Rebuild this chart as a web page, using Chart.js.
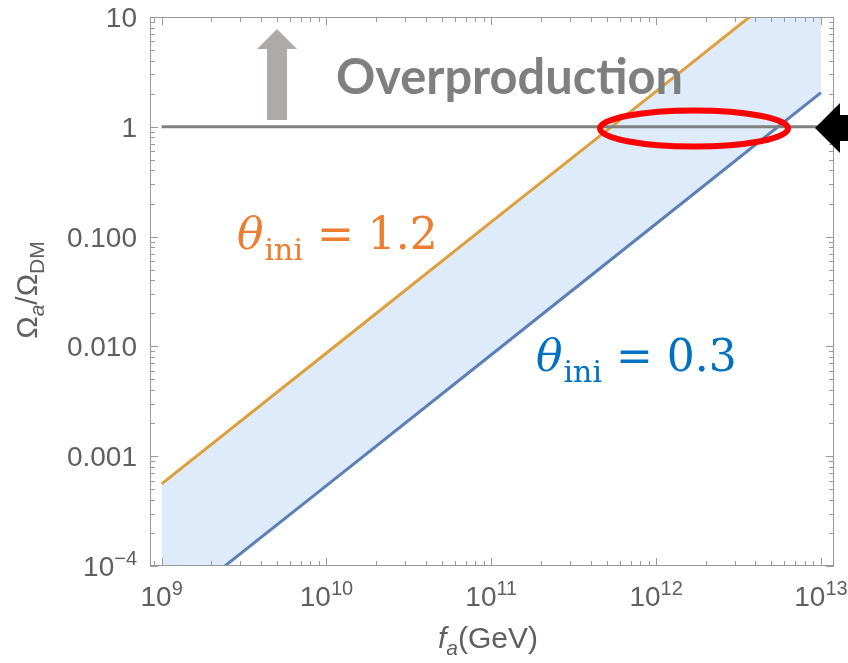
<!DOCTYPE html>
<html>
<head>
<meta charset="utf-8">
<script src="https://cdn.jsdelivr.net/npm/chart.js@4.4.1/dist/chart.umd.min.js"></script>
<style>
  html, body { margin: 0; padding: 0; background: #fff; }
  #wrap { width: 848px; height: 663px; }
</style>
</head>
<body>
<div id="wrap"><canvas id="relic-chart" width="848" height="663"></canvas></div>
<script>
// axion decay constant f_a (GeV) and relic abundance Omega_a / Omega_DM
var faValues = [1e9, 1e10, 1e11, 1e12, 1e13];
var omegaTheta12 = [5.6e-4, 8.7e-3, 0.136, 2.1, 33];
var omegaTheta03 = [3.5e-5, 5.4e-4, 8.4e-3, 0.131, 2.05];
var dmLineX = [1e9, 1.2e13];
var dmLineY = [1, 1];

var xTickValues = [1e9, 1e10, 1e11, 1e12, 1e13];
var xTickLabels = ['10^9', '10^10', '10^11', '10^12', '10^13'];
var yTickValues = [1e-4, 1e-3, 1e-2, 1e-1, 1, 10];
var yTickLabels = ['10^−4', '0.001', '0.010', '0.100', '1', '10'];

var LABEL_FONT = '28px "Liberation Sans"';
var SUP_FONT = '20px "Liberation Sans"';

function toPoints(xs, ys) {
    return xs.map(function (x, i) { return { x: x, y: ys[i] }; });
}

// draws a row of text pieces with different fonts / baseline shifts
function drawRuns(ctx, runs, x, y, align) {
    var total = 0;
    runs.forEach(function (r) {
        ctx.font = r.font;
        total += ctx.measureText(r.text).width + (r.gap || 0);
    });
    var cx = x;
    if (align === 'center') cx = x - total / 2;
    if (align === 'right') cx = x - total;
    runs.forEach(function (r) {
        ctx.font = r.font;
        ctx.fillText(r.text, cx, y + (r.dy || 0));
        cx += ctx.measureText(r.text).width + (r.gap || 0);
    });
}

function labelRuns(label) {
    var parts = label.split('^');
    var runs = [{ text: parts[0], font: LABEL_FONT }];
    if (parts[1]) runs.push({ text: parts[1], font: SUP_FONT, dy: -11 });
    return runs;
}

var frameTicks = {
    id: 'frameTicks',
    afterDatasetsDraw: function (chart) {
        var ctx = chart.ctx, a = chart.chartArea;
        var xs = chart.scales.x, ys = chart.scales.y;
        ctx.save();
        ctx.strokeStyle = '#9a9a9a';
        ctx.lineWidth = 1;
        ctx.strokeRect(a.left + 0.5, a.top + 0.5, a.right - a.left - 1, a.bottom - a.top - 1);
        ctx.beginPath();
        for (var d = -5; d <= 13; d++) {
            for (var k = 1; k <= 9; k++) {
                var v = k * Math.pow(10, d);
                var len = k === 1 ? 8 : 5;
                if (v >= xs.min && v <= xs.max) {
                    var px = Math.round(xs.getPixelForValue(v)) + 0.5;
                    ctx.moveTo(px, a.bottom); ctx.lineTo(px, a.bottom - len);
                    ctx.moveTo(px, a.top); ctx.lineTo(px, a.top + len);
                }
                if (v >= ys.min && v <= ys.max) {
                    var py = Math.round(ys.getPixelForValue(v)) + 0.5;
                    ctx.moveTo(a.left, py); ctx.lineTo(a.left + len, py);
                    ctx.moveTo(a.right, py); ctx.lineTo(a.right - len, py);
                }
            }
        }
        ctx.stroke();

        // tick labels, placed by the scales
        ctx.fillStyle = '#5f5f5f';
        ctx.textBaseline = 'alphabetic';
        xs.ticks.forEach(function (t, i) {
            drawRuns(ctx, labelRuns(xTickLabels[i]), xs.getPixelForValue(t.value), a.bottom + 40, 'center');
        });
        ys.ticks.forEach(function (t, i) {
            drawRuns(ctx, labelRuns(yTickLabels[i]), a.left - 13, ys.getPixelForValue(t.value) + 10, 'right');
        });
        ctx.restore();
    }
};

var annotations = {
    id: 'annotations',
    afterDraw: function (chart) {
        var ctx = chart.ctx, a = chart.chartArea;
        ctx.save();
        ctx.textBaseline = 'alphabetic';

        // axis titles
        ctx.fillStyle = '#5f5f5f';
        drawRuns(ctx, [
            { text: 'f', font: 'italic 30px "Liberation Sans"' },
            { text: 'a', font: 'italic 21px "Liberation Sans"', dy: 7 },
            { text: '(GeV)', font: '30px "Liberation Sans"' }
        ], (a.left + a.right) / 2 - 4, 648, 'center');

        ctx.save();
        ctx.translate(37, 290);
        ctx.rotate(-Math.PI / 2);
        drawRuns(ctx, [
            { text: 'Ω', font: '30px "Liberation Sans"' },
            { text: 'a', font: 'italic 21px "Liberation Sans"', dy: 7 },
            { text: '/Ω', font: '30px "Liberation Sans"' },
            { text: 'DM', font: '21px "Liberation Sans"', dy: 7 }
        ], 0, 0, 'center');
        ctx.restore();

        // grey up arrow
        ctx.fillStyle = '#aeaaaa';
        ctx.fillRect(267, 49, 20, 71);
        ctx.beginPath();
        ctx.moveTo(257, 49); ctx.lineTo(297, 49); ctx.lineTo(277, 29);
        ctx.closePath();
        ctx.fill();

        ctx.fillStyle = '#7f7f7f';
        ctx.font = 'bold 50px Lato';
        ctx.fillText('Overproduction', 336, 94, 347);

        // theta labels
        ctx.fillStyle = '#ed7d31';
        drawRuns(ctx, [
            { text: 'θ', font: 'italic 44px "DejaVu Serif"', gap: 1 },
            { text: 'ini', font: '30px "DejaVu Serif"', dy: 11, gap: 14 },
            { text: '=', font: '44px "DejaVu Serif"', gap: 14 },
            { text: '1.2', font: '44px "DejaVu Serif"' }
        ], 237, 249, 'left');

        ctx.fillStyle = '#0070c0';
        drawRuns(ctx, [
            { text: 'θ', font: 'italic 44px "DejaVu Serif"', gap: 1 },
            { text: 'ini', font: '30px "DejaVu Serif"', dy: 11, gap: 14 },
            { text: '=', font: '44px "DejaVu Serif"', gap: 14 },
            { text: '0.3', font: '44px "DejaVu Serif"' }
        ], 536, 371, 'left');

        // red ellipse round the crossing with the DM line
        ctx.strokeStyle = '#ff0000';
        ctx.lineWidth = 6;
        ctx.beginPath();
        ctx.ellipse(694, 128.5, 94, 18, 0, 0, Math.PI * 2);
        ctx.stroke();

        // black arrow at right edge
        ctx.fillStyle = '#000';
        ctx.beginPath();
        ctx.moveTo(815, 128); ctx.lineTo(840, 103); ctx.lineTo(840, 115);
        ctx.lineTo(848, 115); ctx.lineTo(848, 141); ctx.lineTo(840, 141);
        ctx.lineTo(840, 153);
        ctx.closePath();
        ctx.fill();

        ctx.restore();
    }
};

var relicData = {
    datasets: [
        {
            data: toPoints(dmLineX, dmLineY),
            borderColor: '#808080',
            borderWidth: 3,
            pointRadius: 0,
            fill: false,
        },
        {
            data: toPoints(faValues, omegaTheta12),
            borderColor: '#dea03a',
            borderWidth: 3,
            pointRadius: 0,
            fill: '+1',
            backgroundColor: '#ddebfa',
        },
        {
            data: toPoints(faValues, omegaTheta03),
            borderColor: '#5b7fb6',
            borderWidth: 3,
            pointRadius: 0,
            fill: false,
        },
    ],
};

new Chart(document.getElementById('relic-chart'), {
    type: 'line',
    data: relicData,
    plugins: [frameTicks, annotations],
    options: {
        responsive: false,
        animation: false,
        devicePixelRatio: 1,
        layout: { padding: { top: 17, right: 14, left: 0, bottom: 0 } },
        plugins: {
            legend: { display: false },
            tooltip: { enabled: false },
            filler: { drawTime: 'beforeDatasetsDraw' },
        },
        scales: {
            x: {
                type: 'logarithmic',
                min: 8.5e8,
                max: 1.2e13,
                grid: { display: false, drawTicks: false },
                border: { display: false },
                ticks: { display: false },
                afterBuildTicks: function (scale) {
                    scale.ticks = xTickValues.map(function (v) { return { value: v }; });
                },
                afterFit: function (scale) {
                    scale.height = 97;
                    scale.paddingLeft = scale.paddingRight = 0;
                },
            },
            y: {
                type: 'logarithmic',
                min: 1e-4,
                max: 10,
                grid: { display: false, drawTicks: false },
                border: { display: false },
                ticks: { display: false },
                afterBuildTicks: function (scale) {
                    scale.ticks = yTickValues.map(function (v) { return { value: v }; });
                },
                afterFit: function (scale) {
                    scale.width = 150;
                    scale.paddingTop = scale.paddingBottom = 0;
                },
            },
        },
    },
});
</script>
</body>
</html>
